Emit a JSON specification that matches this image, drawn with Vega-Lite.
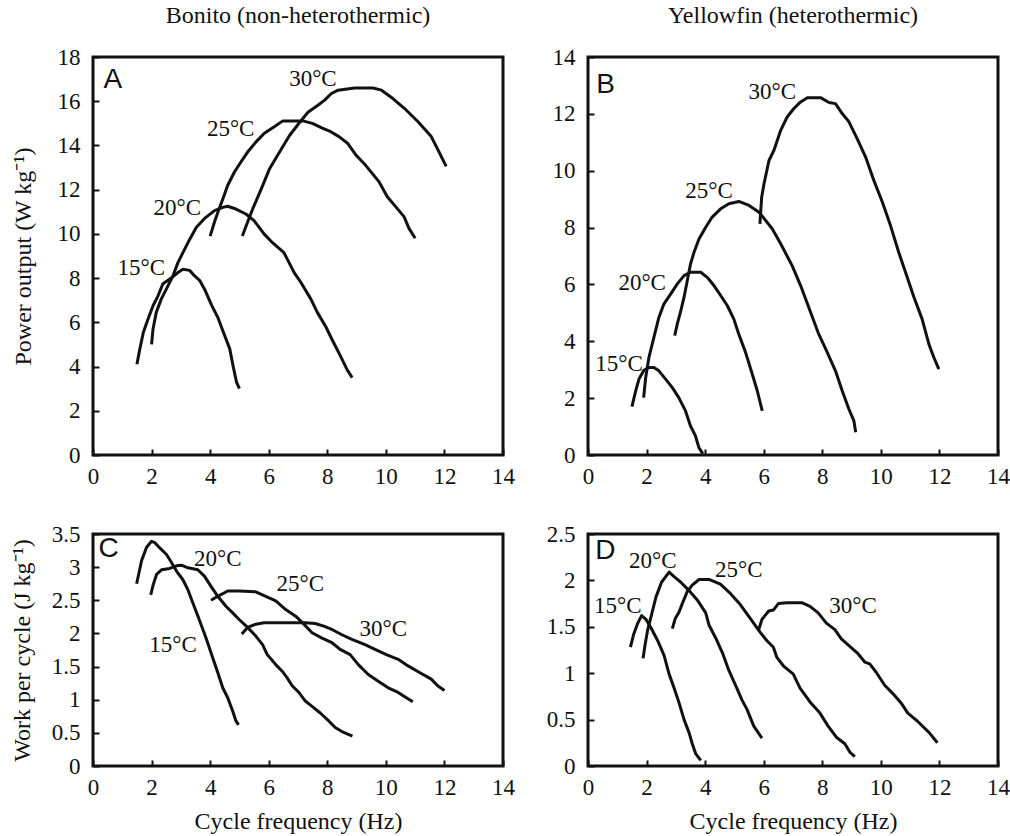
{
  "$schema": "https://vega.github.io/schema/vega-lite/v6.json",
  "padding": {"left": 8, "top": 2, "right": 5, "bottom": 0},
  "background": "white",
  "bounds": "flush",
  "columns": 2,
  "spacing": {"row": 79, "column": 85},
  "config": {
    "view": {"stroke": "#111", "strokeWidth": 3},
    "numberFormat": "~g",
    "axis": {"grid": false, "domain": false, "tickSize": -6, "tickWidth": 2, "tickColor": "#111",
      "labelFont": "Liberation Serif", "labelFontSize": 23, "labelColor": "#111",
      "labelFlush": false, "labelOverlap": false, "labelBound": false,
      "titleFont": "Liberation Serif", "titleFontSize": 24, "titleFontWeight": "normal", "titleColor": "#111"},
    "axisX": {"labelPadding": 16, "titlePadding": 10, "labelFont": "Liberation Serif"},
    "axisY": {"labelPadding": 19, "labelFont": "Liberation Serif"},
    "title": {"font": "Liberation Serif", "fontSize": 24, "fontWeight": "normal", "color": "#111", "frame": "group"}
  },
  "datasets": {
    "A": [
      {"t":15,"f":1.5,"v":4.1},{"t":15,"f":1.6,"v":4.8},{"t":15,"f":1.72,"v":5.55},{"t":15,"f":1.88,"v":6.15},{"t":15,"f":2.05,"v":6.75},{"t":15,"f":2.22,"v":7.2},{"t":15,"f":2.39,"v":7.75},{"t":15,"f":2.67,"v":8.0},{"t":15,"f":2.9,"v":8.25},{"t":15,"f":3.07,"v":8.4},{"t":15,"f":3.3,"v":8.35},{"t":15,"f":3.47,"v":8.1},{"t":15,"f":3.64,"v":7.9},{"t":15,"f":3.81,"v":7.5},{"t":15,"f":4.04,"v":6.8},{"t":15,"f":4.27,"v":6.2},{"t":15,"f":4.44,"v":5.6},{"t":15,"f":4.67,"v":4.8},{"t":15,"f":4.78,"v":4.05},{"t":15,"f":4.9,"v":3.3},{"t":15,"f":5.0,"v":3.0},
      {"t":20,"f":2.0,"v":5.0},{"t":20,"f":2.05,"v":5.7},{"t":20,"f":2.16,"v":6.45},{"t":20,"f":2.33,"v":7.05},{"t":20,"f":2.56,"v":7.65},{"t":20,"f":2.73,"v":8.1},{"t":20,"f":2.9,"v":8.7},{"t":20,"f":3.07,"v":9.15},{"t":20,"f":3.3,"v":9.75},{"t":20,"f":3.53,"v":10.3},{"t":20,"f":3.81,"v":10.7},{"t":20,"f":4.15,"v":11.05},{"t":20,"f":4.43,"v":11.2},{"t":20,"f":4.6,"v":11.25},{"t":20,"f":4.83,"v":11.15},{"t":20,"f":5.22,"v":10.9},{"t":20,"f":5.5,"v":10.6},{"t":20,"f":5.84,"v":10.0},{"t":20,"f":6.13,"v":9.6},{"t":20,"f":6.52,"v":9.15},{"t":20,"f":6.87,"v":8.25},{"t":20,"f":7.1,"v":7.8},{"t":20,"f":7.44,"v":7.05},{"t":20,"f":7.66,"v":6.45},{"t":20,"f":7.95,"v":5.8},{"t":20,"f":8.17,"v":5.2},{"t":20,"f":8.46,"v":4.45},{"t":20,"f":8.68,"v":3.85},{"t":20,"f":8.85,"v":3.5},
      {"t":25,"f":4.0,"v":9.9},{"t":25,"f":4.15,"v":10.55},{"t":25,"f":4.27,"v":11.0},{"t":25,"f":4.44,"v":11.6},{"t":25,"f":4.6,"v":12.2},{"t":25,"f":4.83,"v":12.8},{"t":25,"f":5.05,"v":13.25},{"t":25,"f":5.28,"v":13.7},{"t":25,"f":5.56,"v":14.15},{"t":25,"f":5.85,"v":14.55},{"t":25,"f":6.19,"v":14.85},{"t":25,"f":6.47,"v":15.1},{"t":25,"f":6.75,"v":15.1},{"t":25,"f":7.2,"v":15.1},{"t":25,"f":7.49,"v":15.0},{"t":25,"f":7.83,"v":14.78},{"t":25,"f":8.12,"v":14.62},{"t":25,"f":8.4,"v":14.4},{"t":25,"f":8.69,"v":14.1},{"t":25,"f":8.97,"v":13.58},{"t":25,"f":9.31,"v":13.1},{"t":25,"f":9.77,"v":12.35},{"t":25,"f":10.05,"v":11.68},{"t":25,"f":10.34,"v":11.22},{"t":25,"f":10.62,"v":10.78},{"t":25,"f":10.79,"v":10.25},{"t":25,"f":11.0,"v":9.8},
      {"t":30,"f":5.1,"v":9.9},{"t":30,"f":5.24,"v":10.4},{"t":30,"f":5.46,"v":11.15},{"t":30,"f":5.75,"v":12.05},{"t":30,"f":6.03,"v":12.95},{"t":30,"f":6.37,"v":13.7},{"t":30,"f":6.71,"v":14.45},{"t":30,"f":7.06,"v":15.05},{"t":30,"f":7.34,"v":15.5},{"t":30,"f":7.68,"v":15.82},{"t":30,"f":7.91,"v":16.05},{"t":30,"f":8.14,"v":16.35},{"t":30,"f":8.37,"v":16.5},{"t":30,"f":8.93,"v":16.6},{"t":30,"f":9.56,"v":16.6},{"t":30,"f":9.85,"v":16.5},{"t":30,"f":10.24,"v":16.12},{"t":30,"f":10.64,"v":15.67},{"t":30,"f":11.1,"v":15.07},{"t":30,"f":11.55,"v":14.4},{"t":30,"f":11.78,"v":13.8},{"t":30,"f":12.06,"v":13.05}
    ],
    "B": [
      {"t":15,"f":1.5,"v":1.7},{"t":15,"f":1.63,"v":2.26},{"t":15,"f":1.74,"v":2.67},{"t":15,"f":1.91,"v":2.98},{"t":15,"f":2.08,"v":3.08},{"t":15,"f":2.25,"v":3.08},{"t":15,"f":2.42,"v":2.96},{"t":15,"f":2.65,"v":2.67},{"t":15,"f":2.88,"v":2.37},{"t":15,"f":3.1,"v":2.02},{"t":15,"f":3.33,"v":1.55},{"t":15,"f":3.5,"v":1.02},{"t":15,"f":3.67,"v":0.67},{"t":15,"f":3.79,"v":0.25},{"t":15,"f":3.92,"v":0.05},
      {"t":20,"f":1.9,"v":2.02},{"t":20,"f":1.97,"v":2.73},{"t":20,"f":2.08,"v":3.43},{"t":20,"f":2.25,"v":4.14},{"t":20,"f":2.42,"v":4.84},{"t":20,"f":2.59,"v":5.31},{"t":20,"f":2.82,"v":5.66},{"t":20,"f":3.05,"v":6.02},{"t":20,"f":3.28,"v":6.31},{"t":20,"f":3.5,"v":6.43},{"t":20,"f":3.85,"v":6.43},{"t":20,"f":4.07,"v":6.25},{"t":20,"f":4.3,"v":5.96},{"t":20,"f":4.53,"v":5.61},{"t":20,"f":4.76,"v":5.25},{"t":20,"f":4.98,"v":4.78},{"t":20,"f":5.15,"v":4.25},{"t":20,"f":5.38,"v":3.61},{"t":20,"f":5.61,"v":2.84},{"t":20,"f":5.78,"v":2.26},{"t":20,"f":5.95,"v":1.55},
      {"t":25,"f":2.96,"v":4.2},{"t":25,"f":3.05,"v":4.61},{"t":25,"f":3.17,"v":5.08},{"t":25,"f":3.28,"v":5.55},{"t":25,"f":3.39,"v":6.13},{"t":25,"f":3.5,"v":6.72},{"t":25,"f":3.62,"v":7.13},{"t":25,"f":3.79,"v":7.6},{"t":25,"f":4.02,"v":8.01},{"t":25,"f":4.24,"v":8.37},{"t":25,"f":4.53,"v":8.66},{"t":25,"f":4.81,"v":8.84},{"t":25,"f":5.15,"v":8.92},{"t":25,"f":5.5,"v":8.78},{"t":25,"f":5.84,"v":8.54},{"t":25,"f":6.29,"v":7.96},{"t":25,"f":6.58,"v":7.43},{"t":25,"f":6.97,"v":6.66},{"t":25,"f":7.26,"v":5.96},{"t":25,"f":7.6,"v":5.02},{"t":25,"f":7.88,"v":4.25},{"t":25,"f":8.17,"v":3.61},{"t":25,"f":8.45,"v":2.96},{"t":25,"f":8.68,"v":2.26},{"t":25,"f":8.91,"v":1.61},{"t":25,"f":9.08,"v":1.2},{"t":25,"f":9.14,"v":0.8},
      {"t":30,"f":5.87,"v":8.13},{"t":30,"f":5.93,"v":9.07},{"t":30,"f":6.01,"v":9.54},{"t":30,"f":6.18,"v":10.36},{"t":30,"f":6.35,"v":10.72},{"t":30,"f":6.58,"v":11.42},{"t":30,"f":6.8,"v":11.89},{"t":30,"f":7.03,"v":12.19},{"t":30,"f":7.26,"v":12.42},{"t":30,"f":7.49,"v":12.57},{"t":30,"f":7.94,"v":12.57},{"t":30,"f":8.23,"v":12.4},{"t":30,"f":8.45,"v":12.36},{"t":30,"f":8.68,"v":12.01},{"t":30,"f":8.91,"v":11.72},{"t":30,"f":9.19,"v":11.13},{"t":30,"f":9.48,"v":10.48},{"t":30,"f":9.76,"v":9.66},{"t":30,"f":10.05,"v":8.9},{"t":30,"f":10.33,"v":8.07},{"t":30,"f":10.61,"v":7.13},{"t":30,"f":10.9,"v":6.25},{"t":30,"f":11.13,"v":5.55},{"t":30,"f":11.41,"v":4.78},{"t":30,"f":11.64,"v":3.9},{"t":30,"f":11.81,"v":3.43},{"t":30,"f":11.98,"v":3.02}
    ],
    "C": [
      {"t":15,"f":1.49,"v":2.75},{"t":15,"f":1.66,"v":3.1},{"t":15,"f":1.83,"v":3.3},{"t":15,"f":2.0,"v":3.39},{"t":15,"f":2.11,"v":3.37},{"t":15,"f":2.28,"v":3.29},{"t":15,"f":2.51,"v":3.19},{"t":15,"f":2.68,"v":3.07},{"t":15,"f":2.85,"v":2.94},{"t":15,"f":3.07,"v":2.81},{"t":15,"f":3.24,"v":2.66},{"t":15,"f":3.41,"v":2.46},{"t":15,"f":3.6,"v":2.24},{"t":15,"f":3.86,"v":1.93},{"t":15,"f":4.09,"v":1.63},{"t":15,"f":4.26,"v":1.41},{"t":15,"f":4.43,"v":1.18},{"t":15,"f":4.6,"v":1.03},{"t":15,"f":4.77,"v":0.83},{"t":15,"f":4.88,"v":0.68},{"t":15,"f":4.97,"v":0.62},
      {"t":20,"f":1.97,"v":2.58},{"t":20,"f":2.06,"v":2.74},{"t":20,"f":2.17,"v":2.89},{"t":20,"f":2.34,"v":2.96},{"t":20,"f":2.62,"v":2.98},{"t":20,"f":2.85,"v":3.02},{"t":20,"f":3.02,"v":3.03},{"t":20,"f":3.24,"v":2.99},{"t":20,"f":3.58,"v":2.96},{"t":20,"f":3.81,"v":2.86},{"t":20,"f":4.03,"v":2.71},{"t":20,"f":4.26,"v":2.56},{"t":20,"f":4.54,"v":2.41},{"t":20,"f":4.77,"v":2.31},{"t":20,"f":4.99,"v":2.21},{"t":20,"f":5.28,"v":2.09},{"t":20,"f":5.56,"v":1.96},{"t":20,"f":5.79,"v":1.83},{"t":20,"f":5.95,"v":1.68},{"t":20,"f":6.24,"v":1.53},{"t":20,"f":6.46,"v":1.43},{"t":20,"f":6.63,"v":1.33},{"t":20,"f":6.8,"v":1.21},{"t":20,"f":7.03,"v":1.11},{"t":20,"f":7.25,"v":0.98},{"t":20,"f":7.48,"v":0.9},{"t":20,"f":7.76,"v":0.8},{"t":20,"f":8.05,"v":0.68},{"t":20,"f":8.27,"v":0.58},{"t":20,"f":8.5,"v":0.52},{"t":20,"f":8.86,"v":0.45},
      {"t":25,"f":4.03,"v":2.5},{"t":25,"f":4.26,"v":2.56},{"t":25,"f":4.6,"v":2.64},{"t":25,"f":4.99,"v":2.64},{"t":25,"f":5.54,"v":2.63},{"t":25,"f":5.9,"v":2.56},{"t":25,"f":6.24,"v":2.49},{"t":25,"f":6.58,"v":2.36},{"t":25,"f":6.92,"v":2.26},{"t":25,"f":7.2,"v":2.14},{"t":25,"f":7.48,"v":2.01},{"t":25,"f":7.82,"v":1.93},{"t":25,"f":8.16,"v":1.86},{"t":25,"f":8.44,"v":1.76},{"t":25,"f":8.78,"v":1.68},{"t":25,"f":9.06,"v":1.53},{"t":25,"f":9.4,"v":1.38},{"t":25,"f":9.74,"v":1.28},{"t":25,"f":10.08,"v":1.18},{"t":25,"f":10.42,"v":1.11},{"t":25,"f":10.7,"v":1.03},{"t":25,"f":10.92,"v":0.97},
      {"t":30,"f":5.08,"v":1.99},{"t":30,"f":5.28,"v":2.09},{"t":30,"f":5.56,"v":2.14},{"t":30,"f":5.84,"v":2.16},{"t":30,"f":6.46,"v":2.16},{"t":30,"f":7.25,"v":2.16},{"t":30,"f":7.59,"v":2.15},{"t":30,"f":7.88,"v":2.11},{"t":30,"f":8.16,"v":2.06},{"t":30,"f":8.5,"v":1.98},{"t":30,"f":8.84,"v":1.91},{"t":30,"f":9.29,"v":1.83},{"t":30,"f":9.63,"v":1.76},{"t":30,"f":10.02,"v":1.68},{"t":30,"f":10.42,"v":1.61},{"t":30,"f":10.76,"v":1.51},{"t":30,"f":11.15,"v":1.41},{"t":30,"f":11.55,"v":1.31},{"t":30,"f":11.77,"v":1.21},{"t":30,"f":12.0,"v":1.14}
    ],
    "D": [
      {"t":15,"f":1.45,"v":1.28},{"t":15,"f":1.56,"v":1.42},{"t":15,"f":1.7,"v":1.54},{"t":15,"f":1.83,"v":1.62},{"t":15,"f":1.98,"v":1.58},{"t":15,"f":2.15,"v":1.49},{"t":15,"f":2.38,"v":1.35},{"t":15,"f":2.6,"v":1.19},{"t":15,"f":2.77,"v":0.99},{"t":15,"f":2.94,"v":0.84},{"t":15,"f":3.11,"v":0.68},{"t":15,"f":3.28,"v":0.5},{"t":15,"f":3.45,"v":0.36},{"t":15,"f":3.56,"v":0.24},{"t":15,"f":3.68,"v":0.13},{"t":15,"f":3.85,"v":0.06},
      {"t":20,"f":1.88,"v":1.16},{"t":20,"f":1.95,"v":1.31},{"t":20,"f":2.04,"v":1.47},{"t":20,"f":2.17,"v":1.63},{"t":20,"f":2.32,"v":1.82},{"t":20,"f":2.51,"v":1.98},{"t":20,"f":2.77,"v":2.09},{"t":20,"f":2.94,"v":2.04},{"t":20,"f":3.17,"v":1.98},{"t":20,"f":3.45,"v":1.89},{"t":20,"f":3.73,"v":1.79},{"t":20,"f":4.02,"v":1.65},{"t":20,"f":4.13,"v":1.52},{"t":20,"f":4.36,"v":1.38},{"t":20,"f":4.59,"v":1.22},{"t":20,"f":4.81,"v":1.03},{"t":20,"f":5.04,"v":0.87},{"t":20,"f":5.26,"v":0.71},{"t":20,"f":5.43,"v":0.61},{"t":20,"f":5.66,"v":0.43},{"t":20,"f":5.94,"v":0.3},
      {"t":25,"f":2.88,"v":1.48},{"t":25,"f":2.98,"v":1.59},{"t":25,"f":3.11,"v":1.66},{"t":25,"f":3.22,"v":1.75},{"t":25,"f":3.39,"v":1.88},{"t":25,"f":3.56,"v":1.95},{"t":25,"f":3.79,"v":2.01},{"t":25,"f":4.13,"v":2.01},{"t":25,"f":4.52,"v":1.96},{"t":25,"f":4.86,"v":1.86},{"t":25,"f":5.2,"v":1.74},{"t":25,"f":5.54,"v":1.59},{"t":25,"f":5.88,"v":1.44},{"t":25,"f":6.11,"v":1.35},{"t":25,"f":6.33,"v":1.28},{"t":25,"f":6.45,"v":1.17},{"t":25,"f":6.67,"v":1.08},{"t":25,"f":7.01,"v":0.99},{"t":25,"f":7.24,"v":0.84},{"t":25,"f":7.58,"v":0.69},{"t":25,"f":7.92,"v":0.57},{"t":25,"f":8.2,"v":0.43},{"t":25,"f":8.48,"v":0.31},{"t":25,"f":8.77,"v":0.24},{"t":25,"f":8.94,"v":0.15},{"t":25,"f":9.11,"v":0.1},
      {"t":30,"f":5.83,"v":1.47},{"t":30,"f":5.94,"v":1.58},{"t":30,"f":6.17,"v":1.67},{"t":30,"f":6.33,"v":1.68},{"t":30,"f":6.5,"v":1.75},{"t":30,"f":6.79,"v":1.76},{"t":30,"f":7.3,"v":1.76},{"t":30,"f":7.58,"v":1.72},{"t":30,"f":7.86,"v":1.65},{"t":30,"f":8.14,"v":1.54},{"t":30,"f":8.43,"v":1.47},{"t":30,"f":8.65,"v":1.37},{"t":30,"f":8.94,"v":1.29},{"t":30,"f":9.22,"v":1.21},{"t":30,"f":9.45,"v":1.12},{"t":30,"f":9.62,"v":1.1},{"t":30,"f":9.84,"v":1.01},{"t":30,"f":10.13,"v":0.87},{"t":30,"f":10.41,"v":0.78},{"t":30,"f":10.69,"v":0.68},{"t":30,"f":10.92,"v":0.57},{"t":30,"f":11.26,"v":0.48},{"t":30,"f":11.65,"v":0.36},{"t":30,"f":11.93,"v":0.25}
    ],
    "Alab": [{"label":"30°C","f":7.51,"v":17.0},{"label":"25°C","f":4.7,"v":14.74},{"label":"20°C","f":2.88,"v":11.18},{"label":"15°C","f":1.65,"v":8.45}],
    "Blab": [{"label":"30°C","f":6.29,"v":12.77},{"label":"25°C","f":4.13,"v":9.27},{"label":"20°C","f":1.85,"v":6.04},{"label":"15°C","f":1.06,"v":3.2}],
    "Clab": [{"label":"20°C","f":4.26,"v":3.12},{"label":"25°C","f":7.08,"v":2.74},{"label":"30°C","f":9.91,"v":2.06},{"label":"15°C","f":2.73,"v":1.83}],
    "Dlab": [{"label":"20°C","f":2.21,"v":2.21},{"label":"25°C","f":5.15,"v":2.11},{"label":"30°C","f":9.05,"v":1.72},{"label":"15°C","f":1.02,"v":1.72}],
    "Alet": [{"label":"A","f":0.68,"v":16.94}],
    "Blet": [{"label":"B","f":0.6,"v":13.0}],
    "Clet": [{"label":"C","f":0.53,"v":3.27}],
    "Dlet": [{"label":"D","f":0.59,"v":2.32}]
  },
  "concat": [
    {
      "width": 410, "height": 398,
      "title": {"text": "Bonito (non-heterothermic)", "offset": 18},
      "encoding": {
        "x": {"field": "f", "type": "quantitative", "scale": {"domain": [0, 14], "nice": false}, "axis": {"values": [0,2,4,6,8,10,12,14], "title": null, "labelFont": "Liberation Serif"}},
        "y": {"field": "v", "type": "quantitative", "scale": {"domain": [0, 18], "nice": false}, "axis": {"values": [0,2,4,6,8,10,12,14,16,18], "title": "Power output (W kg⁻¹)", "titlePadding": 22, "labelFont": "Liberation Serif"}}
      },
      "layer": [
        {"data": {"name": "A"}, "mark": {"type": "line", "stroke": "#111", "strokeWidth": 3, "strokeJoin": "round"}, "encoding": {"detail": {"field": "t"}}},
        {"data": {"name": "Alab"}, "mark": {"type": "text", "font": "Liberation Serif", "fontSize": 23, "fill": "#111"}, "encoding": {"text": {"field": "label"}}},
        {"data": {"name": "Alet"}, "mark": {"type": "text", "font": "Liberation Sans", "fontSize": 28, "fill": "#111"}, "encoding": {"text": {"field": "label"}}}
      ]
    },
    {
      "width": 410, "height": 398,
      "title": {"text": "Yellowfin (heterothermic)", "offset": 18},
      "encoding": {
        "x": {"field": "f", "type": "quantitative", "scale": {"domain": [0, 14], "nice": false}, "axis": {"values": [0,2,4,6,8,10,12,14], "title": null, "labelFont": "Liberation Serif"}},
        "y": {"field": "v", "type": "quantitative", "scale": {"domain": [0, 14], "nice": false}, "axis": {"values": [0,2,4,6,8,10,12,14], "title": null, "labelFont": "Liberation Serif"}}
      },
      "layer": [
        {"data": {"name": "B"}, "mark": {"type": "line", "stroke": "#111", "strokeWidth": 3, "strokeJoin": "round"}, "encoding": {"detail": {"field": "t"}}},
        {"data": {"name": "Blab"}, "mark": {"type": "text", "font": "Liberation Serif", "fontSize": 23, "fill": "#111"}, "encoding": {"text": {"field": "label"}}},
        {"data": {"name": "Blet"}, "mark": {"type": "text", "font": "Liberation Sans", "fontSize": 28, "fill": "#111"}, "encoding": {"text": {"field": "label"}}}
      ]
    },
    {
      "width": 410, "height": 232,
      "encoding": {
        "x": {"field": "f", "type": "quantitative", "scale": {"domain": [0, 14], "nice": false}, "axis": {"values": [0,2,4,6,8,10,12,14], "title": "Cycle frequency (Hz)", "labelFont": "Liberation Serif"}},
        "y": {"field": "v", "type": "quantitative", "scale": {"domain": [0, 3.5], "nice": false}, "axis": {"values": [0,0.5,1,1.5,2,2.5,3,3.5], "title": "Work per cycle (J kg⁻¹)", "titlePadding": 17, "labelFont": "Liberation Serif"}}
      },
      "layer": [
        {"data": {"name": "C"}, "mark": {"type": "line", "stroke": "#111", "strokeWidth": 3, "strokeJoin": "round"}, "encoding": {"detail": {"field": "t"}}},
        {"data": {"name": "Clab"}, "mark": {"type": "text", "font": "Liberation Serif", "fontSize": 23, "fill": "#111"}, "encoding": {"text": {"field": "label"}}},
        {"data": {"name": "Clet"}, "mark": {"type": "text", "font": "Liberation Sans", "fontSize": 28, "fill": "#111"}, "encoding": {"text": {"field": "label"}}}
      ]
    },
    {
      "width": 410, "height": 232,
      "encoding": {
        "x": {"field": "f", "type": "quantitative", "scale": {"domain": [0, 14], "nice": false}, "axis": {"values": [0,2,4,6,8,10,12,14], "title": "Cycle frequency (Hz)", "labelFont": "Liberation Serif"}},
        "y": {"field": "v", "type": "quantitative", "scale": {"domain": [0, 2.5], "nice": false}, "axis": {"values": [0,0.5,1,1.5,2,2.5], "title": null, "labelFont": "Liberation Serif"}}
      },
      "layer": [
        {"data": {"name": "D"}, "mark": {"type": "line", "stroke": "#111", "strokeWidth": 3, "strokeJoin": "round"}, "encoding": {"detail": {"field": "t"}}},
        {"data": {"name": "Dlab"}, "mark": {"type": "text", "font": "Liberation Serif", "fontSize": 23, "fill": "#111"}, "encoding": {"text": {"field": "label"}}},
        {"data": {"name": "Dlet"}, "mark": {"type": "text", "font": "Liberation Sans", "fontSize": 28, "fill": "#111"}, "encoding": {"text": {"field": "label"}}}
      ]
    }
  ]
}
